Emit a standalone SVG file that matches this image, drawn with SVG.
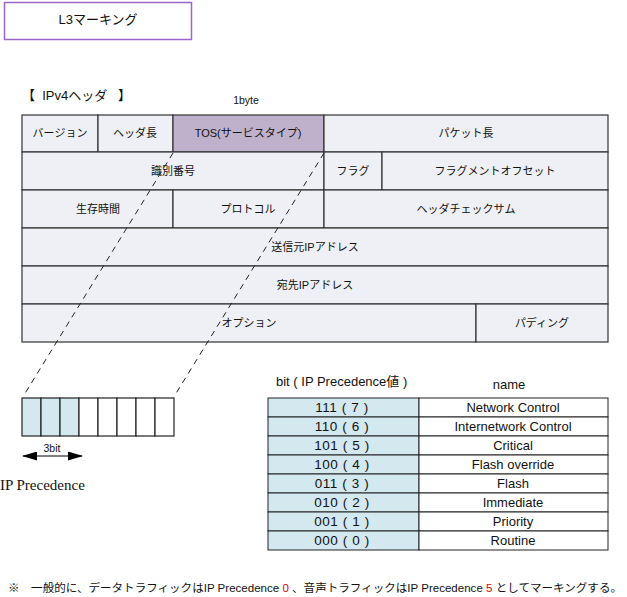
<svg xmlns="http://www.w3.org/2000/svg" width="627" height="597" viewBox="0 0 627 597">
<defs>
<style>
text{font-family:"Liberation Sans","Noto Sans CJK JP",sans-serif;font-size:11px;fill:#111}
.c{text-anchor:middle}
.cell{fill:#eef0f5;stroke:#333;stroke-width:1.2}
.tos{fill:#bfb0cc;stroke:#333;stroke-width:1.2}
.bit{fill:#fff;stroke:#222;stroke-width:1.2}
.bitf{fill:#d4e8f0;stroke:#222;stroke-width:1.2}
.tl{fill:#d4e8f0;stroke:#222;stroke-width:1}
.tr{fill:#fff;stroke:#222;stroke-width:1}
.tt{font-size:13px}
.v{font-size:13.5px;white-space:pre;letter-spacing:0.6px}
.dash{stroke:#222;stroke-width:1;stroke-dasharray:6,5;fill:none}
</style>
<marker id="ah" markerWidth="15" markerHeight="9" refX="14" refY="4.5" orient="auto-start-reverse" markerUnits="userSpaceOnUse">
<path d="M0,0 L15,4.5 L0,9 Z" fill="#000"/>
</marker>
</defs>
<rect width="627" height="597" fill="#fff"/>

<g id="title">
<rect x="4.5" y="2.5" width="187" height="37" fill="#fff" stroke="#9a66cc" stroke-width="1.5"/>
<text x="98" y="24" class="c" style="font-size:13px">L3マーキング</text>
</g>

<g id="header-label">
<text x="22" y="100" style="font-size:13px;white-space:pre">【  IPv4ヘッダ   】</text>
<text x="246" y="104" class="c" style="font-size:10.5px">1byte</text>
</g>

<g id="ipv4-header">
<rect class="cell" x="22" y="115" width="76" height="37"/>
<rect class="cell" x="98" y="115" width="75" height="37"/>
<rect class="tos" x="173" y="115" width="151" height="37"/>
<rect class="cell" x="324" y="115" width="284" height="37"/>
<rect class="cell" x="22" y="152" width="302" height="38"/>
<rect class="cell" x="324" y="152" width="58" height="38"/>
<rect class="cell" x="382" y="152" width="226" height="38"/>
<rect class="cell" x="22" y="190" width="151" height="38"/>
<rect class="cell" x="173" y="190" width="151" height="38"/>
<rect class="cell" x="324" y="190" width="284" height="38"/>
<rect class="cell" x="22" y="228" width="586" height="38"/>
<rect class="cell" x="22" y="266" width="586" height="38"/>
<rect class="cell" x="22" y="304" width="454" height="38"/>
<rect class="cell" x="476" y="304" width="132" height="38"/>
<text x="60" y="137" class="c">バージョン</text>
<text x="135" y="137" class="c">ヘッダ長</text>
<text x="248" y="137" class="c">TOS(サービスタイプ)</text>
<text x="466" y="137" class="c">パケット長</text>
<text x="173" y="175" class="c">識別番号</text>
<text x="353" y="175" class="c">フラグ</text>
<text x="495" y="175" class="c">フラグメントオフセット</text>
<text x="98" y="213" class="c">生存時間</text>
<text x="248" y="213" class="c">プロトコル</text>
<text x="466" y="213" class="c">ヘッダチェックサム</text>
<text x="315" y="251" class="c">送信元IPアドレス</text>
<text x="315" y="289" class="c">宛先IPアドレス</text>
<text x="249" y="327" class="c">オプション</text>
<text x="542" y="327" class="c">パディング</text>
</g>

<g id="connectors">
<line class="dash" x1="173" y1="153" x2="24" y2="395"/>
<line class="dash" x1="324" y1="153" x2="175" y2="395"/>
<line x1="23" y1="456" x2="82" y2="456" stroke="#000" stroke-width="1.2" marker-start="url(#ah)" marker-end="url(#ah)"/>
</g>

<g id="tos-bits">
<rect class="bitf" x="22" y="398" width="19" height="38"/>
<rect class="bitf" x="41" y="398" width="19" height="38"/>
<rect class="bitf" x="60" y="398" width="19" height="38"/>
<rect class="bit" x="79" y="398" width="19" height="38"/>
<rect class="bit" x="98" y="398" width="19" height="38"/>
<rect class="bit" x="117" y="398" width="19" height="38"/>
<rect class="bit" x="136" y="398" width="19" height="38"/>
<rect class="bit" x="155" y="398" width="19" height="38"/>
<text x="52" y="452" class="c" style="font-size:10.5px">3bit</text>
<text x="0" y="490" style="font-family:'Liberation Serif',serif;font-size:15px">IP Precedence</text>
</g>

<g id="precedence-table">
<text x="276" y="386" class="tt" style="white-space:pre">bit ( IP Precedence値 )</text>
<text x="509" y="389" class="c tt">name</text>
<rect class="tl" x="268" y="398" width="151" height="19"/><rect class="tr" x="419" y="398" width="189" height="19"/>
<rect class="tl" x="268" y="417" width="151" height="19"/><rect class="tr" x="419" y="417" width="189" height="19"/>
<rect class="tl" x="268" y="436" width="151" height="19"/><rect class="tr" x="419" y="436" width="189" height="19"/>
<rect class="tl" x="268" y="455" width="151" height="19"/><rect class="tr" x="419" y="455" width="189" height="19"/>
<rect class="tl" x="268" y="474" width="151" height="19"/><rect class="tr" x="419" y="474" width="189" height="19"/>
<rect class="tl" x="268" y="493" width="151" height="19"/><rect class="tr" x="419" y="493" width="189" height="19"/>
<rect class="tl" x="268" y="512" width="151" height="19"/><rect class="tr" x="419" y="512" width="189" height="19"/>
<rect class="tl" x="268" y="531" width="151" height="19"/><rect class="tr" x="419" y="531" width="189" height="19"/>
<text x="342" y="412" class="c v">111 ( 7 )</text><text x="513" y="412" class="c tt">Network Control</text>
<text x="342" y="431" class="c v">110 ( 6 )</text><text x="513" y="431" class="c tt">Internetwork Control</text>
<text x="342" y="450" class="c v">101 ( 5 )</text><text x="513" y="450" class="c tt">Critical</text>
<text x="342" y="469" class="c v">100 ( 4 )</text><text x="513" y="469" class="c tt">Flash override</text>
<text x="342" y="488" class="c v">011 ( 3 )</text><text x="513" y="488" class="c tt">Flash</text>
<text x="342" y="507" class="c v">010 ( 2 )</text><text x="513" y="507" class="c tt">Immediate</text>
<text x="342" y="526" class="c v">001 ( 1 )</text><text x="513" y="526" class="c tt">Priority</text>
<text x="342" y="545" class="c v">000 ( 0 )</text><text x="513" y="545" class="c tt">Routine</text>
</g>

<g id="footnote">
<text x="8" y="592" textLength="614" lengthAdjust="spacingAndGlyphs">※　一般的に、データトラフィックはIP Precedence <tspan fill="#e00000">0</tspan> 、音声トラフィックはIP Precedence <tspan fill="#e00000">5</tspan> としてマーキングする。</text>
</g>
</svg>
